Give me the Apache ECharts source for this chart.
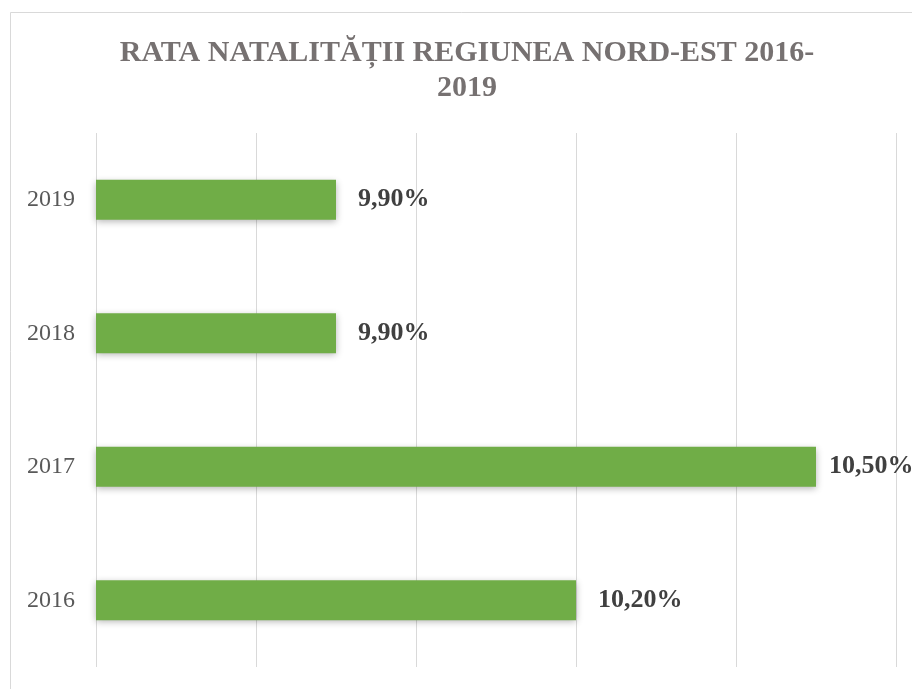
<!DOCTYPE html>
<html>
<head>
<meta charset="utf-8">
<script src="https://cdn.jsdelivr.net/npm/echarts@6/dist/echarts.min.js"></script>
<style>
html,body{margin:0;padding:0;background:#fff;}
#main{width:912px;height:689px;}
</style>
</head>
<body>
<div id="main"></div>
<script>
// date
var years = ['2016', '2017', '2018', '2019'];
var rata = [10.2, 10.5, 9.9, 9.9];
var axaMin = 9.6;
var axaMax = 10.6;
var pas = 0.2;

var myChart = echarts.init(document.getElementById('main'));

// eticheta pentru 2017 e mai aproape de bara (ca in original)
var dateBare = rata.map(function (v, i) {
	if (years[i] === '2017') {
		return { value: v, label: { distance: 13 } };
	}
	return v;
});

var option = {
	backgroundColor: '#fff',
	animation: false,
	title: {
		text: 'RATA NATALITĂȚII REGIUNEA NORD-EST 2016-\n2019',
		left: 462,
		textAlign: 'center',
		top: 31,
		textStyle: {
			fontFamily: 'Liberation Serif',
			fontWeight: 'bold',
			fontSize: 30,
			lineHeight: 35,
			color: '#767171'
		}
	},
	graphic: [{
		type: 'rect',
		shape: { x: 10.5, y: 12.5, width: 1000, height: 1000 },
		style: { fill: 'none', stroke: '#d9d9d9', lineWidth: 1 },
		silent: true
	}],
	grid: { left: 96, right: 16, top: 133, bottom: 22 },
	xAxis: {
		type: 'value',
		min: axaMin,
		max: axaMax,
		interval: pas,
		axisLabel: { show: false },
		axisLine: { show: false },
		axisTick: { show: false },
		splitLine: { show: true, lineStyle: { color: '#d9d9d9', width: 1 } }
	},
	yAxis: {
		type: 'category',
		data: years,
		axisLine: { show: false },
		axisTick: { show: false },
		axisLabel: {
			margin: 21,
			fontFamily: 'Liberation Serif',
			fontSize: 24,
			color: '#595959'
		}
	},
	series: [{
		type: 'bar',
		data: dateBare,
		barWidth: 40,
		itemStyle: {
			color: '#70ad47',
			shadowBlur: 7,
			shadowColor: 'rgba(0,0,0,0.3)',
			shadowOffsetY: 2
		},
		label: {
			show: true,
			position: 'right',
			distance: 22,
			fontFamily: 'Liberation Serif',
			fontWeight: 'bold',
			fontSize: 26,
			color: '#404040',
			formatter: function (p) {
				return p.value.toFixed(2).replace('.', ',') + '%';
			}
		}
	}]
};
myChart.setOption(option);
</script>
</body>
</html>
